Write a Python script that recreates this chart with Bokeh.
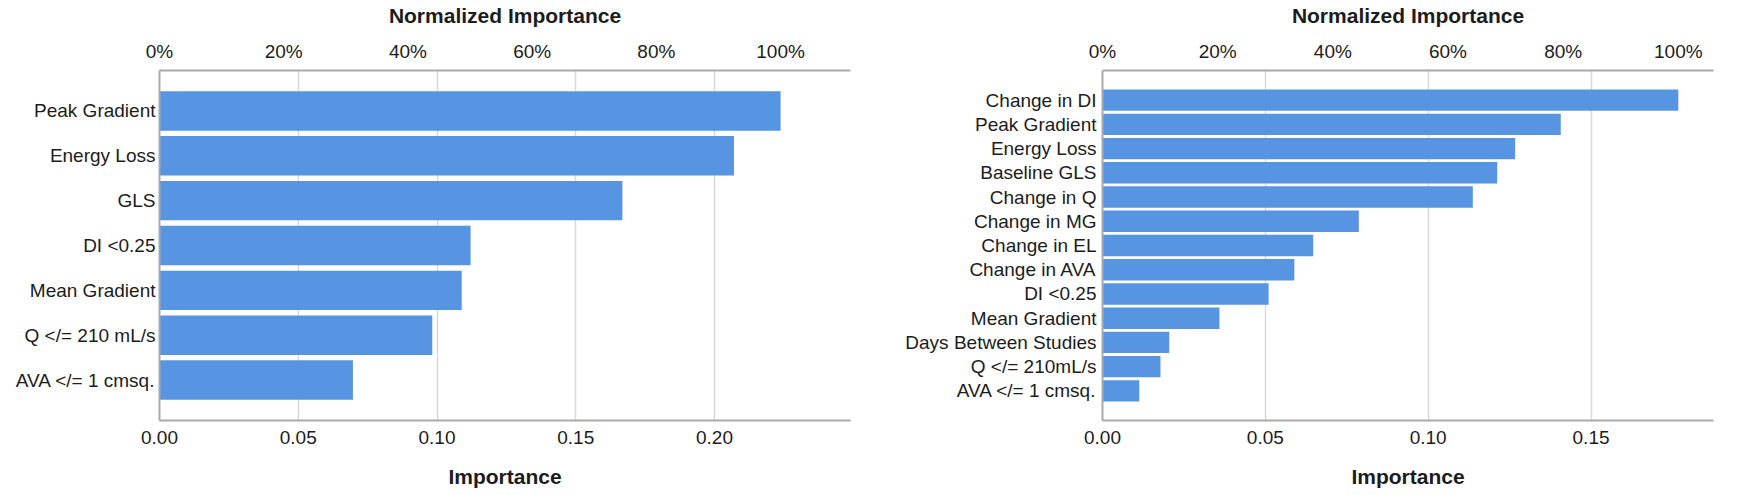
from bokeh.plotting import figure
from bokeh.models import (FactorRange, Range1d, LinearAxis, FixedTicker,
                          NumeralTickFormatter, PrintfTickFormatter, ColumnDataSource)
from bokeh.layouts import row
from bokeh.embed import file_html
from bokeh.resources import INLINE

# ---- data ----
left_features = ["Peak Gradient", "Energy Loss", "GLS", "DI <0.25",
                 "Mean Gradient", "Q </= 210 mL/s", "AVA </= 1 cmsq."]
left_importance = [0.2238, 0.2070, 0.1668, 0.1121, 0.1089, 0.0983, 0.0697]

right_features = ["Change in DI", "Peak Gradient", "Energy Loss", "Baseline GLS",
                  "Change in Q", "Change in MG", "Change in EL", "Change in AVA",
                  "DI <0.25", "Mean Gradient", "Days Between Studies",
                  "Q </= 210mL/s", "AVA </= 1 cmsq."]
right_importance = [0.1768, 0.1407, 0.1267, 0.1212, 0.1137, 0.0787, 0.0647,
                    0.0589, 0.0510, 0.0359, 0.0205, 0.0178, 0.0113]

left_ticks = [0.0, 0.05, 0.10, 0.15, 0.20]
right_ticks = [0.0, 0.05, 0.10, 0.15]
pct_ticks = [0, 20, 40, 60, 80, 100]

BAR = "#5794E2"
AXIS = "#a9a9a9"
GRID = "#d8d8d8"
TXT = "#1c1c1c"
FONT = "Liberation Sans"


def make_panel(features, values, ticks, x_end, width, bl, br, pad, ystand):
    factors = list(reversed(features))
    src = ColumnDataSource(dict(feature=features, importance=values))
    p = figure(width=width, height=490,
               y_range=FactorRange(*factors, range_padding=pad,
                                   range_padding_units="absolute"),
               x_range=Range1d(0, x_end),
               output_backend="svg", toolbar_location=None,
               min_border_left=bl, min_border_right=br,
               min_border_top=60, min_border_bottom=70)
    p.extra_x_ranges = {"pct": Range1d(0, x_end / max(values) * 100)}
    top = LinearAxis(x_range_name="pct", ticker=FixedTicker(ticks=pct_ticks),
                     formatter=PrintfTickFormatter(format="%d%%"),
                     axis_label="Normalized Importance")
    p.add_layout(top, "above")

    p.hbar(y="feature", left=0, right="importance", height=0.88, source=src,
           fill_color=BAR, line_color=None)

    bottom = p.below[0]
    bottom.ticker = FixedTicker(ticks=ticks)
    bottom.formatter = NumeralTickFormatter(format="0.00")
    bottom.axis_label = "Importance"

    for ax in (bottom, top, p.yaxis[0]):
        ax.axis_line_color = AXIS
        ax.axis_line_width = 2
        ax.major_tick_out = 0
        ax.major_tick_in = 0
        ax.minor_tick_out = 0
        ax.minor_tick_in = 0
        ax.major_tick_line_color = None
        ax.minor_tick_line_color = None
        ax.major_label_text_font = FONT
        ax.major_label_text_font_size = "19px"
        ax.major_label_text_color = TXT
        ax.axis_label_text_font = FONT
        ax.axis_label_text_font_size = "21px"
        ax.axis_label_text_font_style = "bold"
        ax.axis_label_text_color = TXT
    bottom.major_label_standoff = 10
    top.major_label_standoff = 9
    bottom.axis_label_standoff = 18
    top.axis_label_standoff = 11
    p.yaxis[0].major_label_standoff = ystand

    p.xgrid.ticker = FixedTicker(ticks=ticks)
    p.xgrid.grid_line_color = GRID
    p.xgrid.grid_line_width = 1.5
    p.ygrid.visible = False
    p.outline_line_color = None
    p.background_fill_color = "white"
    p.border_fill_color = "white"
    return p


p1 = make_panel(left_features, left_importance, left_ticks, 0.249,
                888, 159, 38, 0.4, 4)
p2 = make_panel(right_features, right_importance, right_ticks, 0.1876,
                854, 214, 29, 0.72, 6)

layout = row(p1, p2)
open("out.html", "w").write(file_html(layout, INLINE))
